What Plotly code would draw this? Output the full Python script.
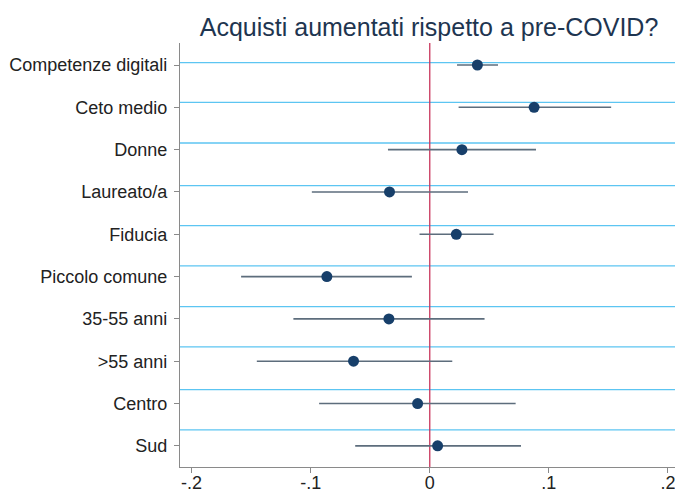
import plotly.graph_objects as go

# Coefficient estimates with 95% confidence intervals
variables = ["Competenze digitali", "Ceto medio", "Donne", "Laureato/a", "Fiducia",
             "Piccolo comune", "35-55 anni", ">55 anni", "Centro", "Sud"]
coef = [0.040, 0.0876, 0.027, -0.0338, 0.0223, -0.0864, -0.0343, -0.064, -0.0102, 0.0066]
ci_low = [0.0229, 0.0242, -0.0351, -0.099, -0.0086, -0.1584, -0.1145, -0.1452, -0.0929, -0.0626]
ci_high = [0.0573, 0.1523, 0.0892, 0.0321, 0.0536, -0.015, 0.046, 0.0189, 0.0721, 0.0766]

x_ticks = [-0.2, -0.1, 0, 0.1, 0.2]
x_tick_labels = ["-.2", "-.1", "0", ".1", ".2"]

# Horizontal guide lines (in category units, 0 = first row)
guide_pos = [-0.054, 0.881, 1.843, 2.851, 3.796, 4.748, 5.710, 6.662, 7.671, 8.623]

fig = go.Figure()
fig.add_trace(go.Scatter(
    x=coef,
    y=variables,
    mode="markers",
    marker=dict(size=11, color="#173f6a"),
    error_x=dict(
        type="data",
        symmetric=False,
        array=[h - c for h, c in zip(ci_high, coef)],
        arrayminus=[c - l for c, l in zip(coef, ci_low)],
        width=0,
        thickness=1.6,
        color="#5d6d7c",
    ),
    showlegend=False,
))

shapes = []
for g in guide_pos:
    shapes.append(dict(type="line", xref="paper", yref="y", x0=0, x1=1, y0=g, y1=g,
                       line=dict(color="#5cc5f2", width=1.3), layer="below"))
shapes.append(dict(type="line", xref="x", yref="paper", x0=0, x1=0, y0=0, y1=1,
                   line=dict(color="#c8355c", width=1.3), layer="below"))

fig.update_layout(
    width=675, height=496,
    margin=dict(l=180, r=0, t=43, b=29),
    paper_bgcolor="white", plot_bgcolor="white",
    font=dict(family="Liberation Sans, Arial, sans-serif", size=18, color="#222222"),
    title=dict(text="Acquisti aumentati rispetto a pre-COVID?", x=0.6356, xanchor="center",
               y=0.9456, yanchor="middle",
               font=dict(size=25, color="#1e3550")),
    shapes=shapes,
    xaxis=dict(range=[-0.2097, 0.2059], tickvals=x_ticks, ticktext=x_tick_labels,
               showgrid=False, zeroline=False, showline=True, linecolor="#8a8a8a",
               linewidth=1.2, ticks="outside", ticklen=5, tickcolor="#8a8a8a",
               tickfont=dict(size=18), automargin=False, ticklabeloverflow="allow",
               ticklabelstandoff=-6),
    yaxis=dict(type="category", categoryorder="array", categoryarray=variables,
               range=[9.5, -0.52], showgrid=False, zeroline=False, showline=True,
               linecolor="#8a8a8a", linewidth=1.2, ticks="outside", ticklen=5,
               tickcolor="#8a8a8a", tickfont=dict(size=18), ticklabelstandoff=3,
               automargin=False),
)

fig.write_html("out.html")
